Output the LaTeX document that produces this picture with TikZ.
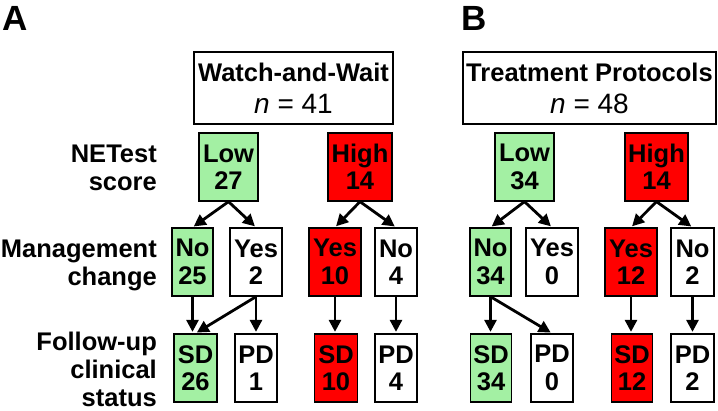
\documentclass[tikz,border=0pt]{standalone}
\usepackage{fontspec}
\setmainfont{Liberation Sans}
\usetikzlibrary{arrows.meta}
\definecolor{lowgreen}{HTML}{A3F0A3}
\definecolor{highred}{HTML}{FF0000}
\begin{document}
\begin{tikzpicture}[x=1pt,y=-1pt,
  cell/.style={draw=black, line width=1.3pt, inner sep=0pt, align=center,
    minimum height=68pt, font=\fontsize{25.5}{27.5}\selectfont\bfseries},
  green/.style={cell, fill=lowgreen},
  red/.style={cell, fill=highred},
  white/.style={cell, fill=white},
  rowlabel/.style={anchor=base east, inner sep=0pt, font=\fontsize{25.5}{28}\selectfont\bfseries},
  headbox/.style={draw=black, line width=1.3pt, inner sep=0pt, minimum height=72pt},
  headtitle/.style={anchor=base, inner sep=0pt, font=\fontsize{25.5}{28}\selectfont\bfseries},
  headn/.style={anchor=base, inner sep=0pt, font=\fontsize{28}{30}\selectfont},
  panel/.style={anchor=base west, inner sep=0pt, font=\fontsize{35}{36}\selectfont\bfseries},
  arr/.style={-{Triangle[length=12pt,width=12pt]}, line width=2.8pt, shorten >=1.5pt}
]
\useasboundingbox (0,0) rectangle (718,410);

% panel letters
\node[panel] (pa) at (2,30) {A};
\node[panel] (pb) at (461,30) {B};

% row labels
\node[rowlabel] (l1a) at (157,162) {NETest};
\node[rowlabel] (l1b) at (157,190) {score};
\node[rowlabel] (l2a) at (157,257) {Management};
\node[rowlabel] (l2b) at (157,285) {change};
\node[rowlabel] (l3a) at (157,350) {Follow-up};
\node[rowlabel] (l3b) at (157,378) {clinical};
\node[rowlabel] (l3c) at (157,406) {status};

% header boxes
\node[headbox, minimum width=199pt] (hA) at (293.5,88) {};
\node[headtitle] (hAt) at (293.5,81) {Watch-and-Wait};
\node[headn] (hAn) at (293.5,113) {\textit{n} = 41};
\node[headbox, minimum width=253pt] (hB) at (589.5,88) {};
\node[headtitle] (hBt) at (589.5,81) {Treatment Protocols};
\node[headn] (hBn) at (589.5,113) {\textit{n} = 48};

% row 1
\node[green, minimum width=59pt] (lowA) at (228.5,167) {Low\\27};
\node[red, minimum width=64pt] (highA) at (360,167) {High\\14};
\node[green, minimum width=59pt] (lowB) at (524.5,167) {Low\\34};
\node[red, minimum width=63pt] (highB) at (656.5,167) {High\\14};

% row 2
\node[green, minimum width=41pt] (noA) at (192.5,262) {No\\25};
\node[white, minimum width=52pt] (yesA) at (256,262) {Yes\\2};
\node[red, minimum width=52pt] (yesHA) at (335,262) {Yes\\10};
\node[white, minimum width=42pt] (noHA) at (396,262) {No\\4};
\node[green, minimum width=41pt] (noB) at (490.5,262) {No\\34};
\node[white, minimum width=52pt] (yesB) at (552,262) {Yes\\0};
\node[red, minimum width=52pt] (yesHB) at (631,262) {Yes\\12};
\node[white, minimum width=43pt] (noHB) at (692.5,262) {No\\2};

% row 3
\node[green, minimum width=43pt] (sdA) at (195.5,368) {SD\\26};
\node[white, minimum width=42pt] (pdA) at (256,368) {PD\\1};
\node[red, minimum width=43pt] (sdHA) at (336,368) {SD\\10};
\node[white, minimum width=42pt] (pdHA) at (396,368) {PD\\4};
\node[green, minimum width=41pt] (sdB) at (491,368) {SD\\34};
\node[white, minimum width=42pt] (pdB) at (552,368) {PD\\0};
\node[red, minimum width=41pt] (sdHB) at (632,368) {SD\\12};
\node[white, minimum width=43pt] (pdHB) at (692.5,368) {PD\\2};

% arrows row1 -> row2
\draw[arr] (lowA.south) -- (noA.north);
\draw[arr] (lowA.south) -- (yesA.north);
\draw[arr] (highA.south) -- (yesHA.north);
\draw[arr] (highA.south) -- (noHA.north);
\draw[arr] (lowB.south) -- (noB.north);
\draw[arr] (lowB.south) -- (yesB.north);
\draw[arr] (highB.south) -- (yesHB.north);
\draw[arr] (highB.south) -- (noHB.north);

% arrows row2 -> row3
\draw[arr] (noA.south) -- (noA.south |- sdA.north);
\draw[arr] (yesA.south) -- (sdA.north);
\draw[arr] (yesA.south) -- (yesA.south |- pdA.north);
\draw[arr] (yesHA.south) -- (yesHA.south |- sdHA.north);
\draw[arr] (noHA.south) -- (noHA.south |- pdHA.north);
\draw[arr] (noB.south) -- (noB.south |- sdB.north);
\draw[arr] (noB.south) -- (pdB.north);
\draw[arr] (yesHB.south) -- (yesHB.south |- sdHB.north);
\draw[arr] (noHB.south) -- (noHB.south |- pdHB.north);
\end{tikzpicture}
\end{document}
